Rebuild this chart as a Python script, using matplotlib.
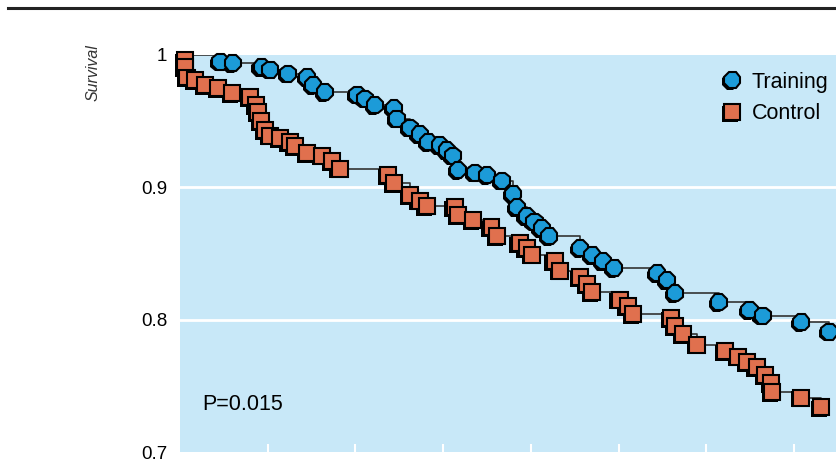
import matplotlib
matplotlib.use("Agg")
import matplotlib.pyplot as plt
import matplotlib.patheffects as pe
from matplotlib import font_manager
from matplotlib.lines import Line2D


def first_font(names):
    for n in names:
        try:
            font_manager.findfont(n, fallback_to_default=False)
            return n
        except ValueError:
            pass
    return "DejaVu Sans"


narrow = first_font(["Liberation Sans Narrow", "DejaVu Sans Condensed",
                     "Liberation Sans"])
plt.rcParams['font.family'] = [narrow, 'DejaVu Sans']

# follow-up time (years) and survival at each step
training_t = [0.0, 0.46, 0.60, 0.93, 1.03, 1.23, 1.45, 1.52, 1.65, 2.02, 2.11,
              2.22, 2.44, 2.47, 2.62, 2.73, 2.83, 2.96, 3.04, 3.11, 3.17, 3.36,
              3.50, 3.67, 3.80, 3.84, 3.95, 4.04, 4.12, 4.21, 4.56, 4.70, 4.82,
              4.95, 5.44, 5.55, 5.64, 6.14, 6.49, 6.64, 7.08, 7.40]
training_s = [1.0, 0.995, 0.994, 0.991, 0.989, 0.986, 0.983, 0.977, 0.972, 0.970,
              0.967, 0.962, 0.960, 0.952, 0.945, 0.940, 0.934, 0.932, 0.928,
              0.924, 0.913, 0.911, 0.909, 0.905, 0.895, 0.885, 0.878, 0.874,
              0.869, 0.863, 0.854, 0.849, 0.844, 0.839, 0.835, 0.830, 0.820,
              0.813, 0.807, 0.803, 0.798, 0.791]

control_t = [0.0, 0.06, 0.06, 0.08, 0.17, 0.29, 0.43, 0.59, 0.80, 0.87, 0.89,
             0.92, 0.97, 1.03, 1.14, 1.25, 1.31, 1.45, 1.62, 1.73, 1.82, 2.37,
             2.44, 2.62, 2.73, 2.81, 3.13, 3.17, 3.34, 3.55, 3.61, 3.87, 3.95,
             4.01, 4.27, 4.33, 4.56, 4.64, 4.70, 5.01, 5.10, 5.16, 5.60, 5.64,
             5.73, 5.89, 6.21, 6.36, 6.46, 6.57, 6.67, 6.74, 6.75, 7.08, 7.31]
control_s = [1.0, 0.996, 0.991, 0.983, 0.981, 0.977, 0.975, 0.971, 0.968, 0.962,
             0.957, 0.950, 0.943, 0.939, 0.937, 0.934, 0.931, 0.926, 0.924,
             0.920, 0.914, 0.909, 0.903, 0.894, 0.890, 0.886, 0.885, 0.879,
             0.875, 0.870, 0.863, 0.858, 0.854, 0.849, 0.844, 0.837, 0.832,
             0.827, 0.821, 0.815, 0.810, 0.804, 0.801, 0.795, 0.789, 0.781,
             0.776, 0.772, 0.768, 0.764, 0.758, 0.752, 0.745, 0.741, 0.734]

y_ticks = [0.7, 0.8, 0.9, 1.0]
y_labels = ["0.7", "0.8", "0.9", "1"]
p_text = "P=0.015"

blue = "#1c9bd8"
orange = "#e0704e"
bg = "#c8e8f8"

fig = plt.figure(figsize=(8.37, 4.61), dpi=100)
ax = fig.add_axes([180 / 837, 9 / 461, 702 / 837, 397 / 461])
ax.set_facecolor(bg)
ax.set_xlim(0, 8)
ax.set_ylim(0.7, 1.0)

for s in ax.spines.values():
    s.set_visible(False)

# white reference lines
for g in [0.8, 0.9]:
    ax.axhline(g, color="white", lw=2, zorder=1)

shadow = [pe.SimplePatchShadow(offset=(-1.6, -1.2), shadow_rgbFace="black", alpha=1.0),
          pe.Normal()]

ax.step(training_t, training_s, where="post", color="#333333", lw=1.2, zorder=2)
ax.step(control_t, control_s, where="post", color="#333333", lw=1.2, zorder=2)

ax.plot(control_t[1:], control_s[1:], ls="none", marker="s", ms=11.5,
        mfc=orange, mec="black", mew=1.5, clip_on=False, zorder=3,
        path_effects=shadow)
ax.plot(training_t[1:], training_s[1:], ls="none", marker="8", ms=12.5,
        mfc=blue, mec="black", mew=1.5, clip_on=False, zorder=4,
        path_effects=shadow)

ax.set_yticks(y_ticks)
ax.set_yticklabels(y_labels)
ax.tick_params(axis="y", length=0, pad=9, labelsize=13.5)
ax.set_xticks(range(1, 8))
ax.set_xticklabels([])
ax.tick_params(axis="x", direction="in", color="white", length=6, width=1.5)

ax.set_ylabel("Survival", fontsize=11.5, style="italic", color="#333333",
              rotation=90, labelpad=0)
ax.yaxis.set_label_coords(-0.113, 0.955)

ax.text(0.031, 0.12, p_text, transform=ax.transAxes, fontsize=15.5,
        va="center", ha="left")

handles = [
    Line2D([], [], ls="none", marker="8", ms=12.5, mfc=blue, mec="black", mew=1.5,
           path_effects=shadow),
    Line2D([], [], ls="none", marker="s", ms=11.5, mfc=orange, mec="black", mew=1.5,
           path_effects=shadow),
]
ax.legend(handles, ["Training", "Control"], loc="upper left",
          bbox_to_anchor=(0.773, 0.958), frameon=False, fontsize=15.5,
          handlelength=0.9, handletextpad=0.45, labelspacing=0.5,
          borderpad=0, borderaxespad=0)

# rule across the top of the figure
fig.add_artist(Line2D([8 / 837, 1.0], [1 - 8 / 461, 1 - 8 / 461],
                      transform=fig.transFigure, color="#222222", lw=2.2))

fig.savefig("out.png", dpi=100)
